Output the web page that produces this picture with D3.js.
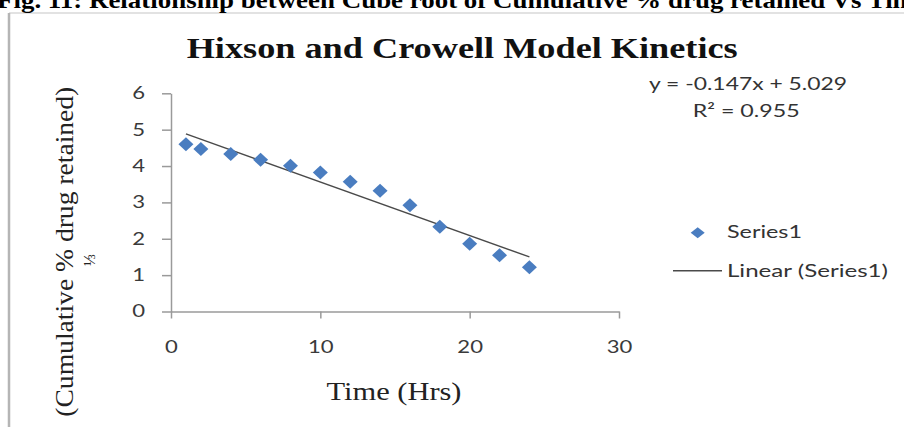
<!DOCTYPE html>
<html><head><meta charset="utf-8">
<script src="https://cdn.jsdelivr.net/npm/d3@7"></script>
<style>body{margin:0;background:#fff;} svg{display:block}</style>
</head><body><svg id="c" width="904" height="427"></svg>
<script>
// ---- data ----
const timeHrs = [1, 2, 4, 6, 8, 10, 12, 14, 16, 18, 20, 22, 24];
const cubeRootRetained = [4.60, 4.47, 4.33, 4.17, 4.01, 3.82, 3.57, 3.32, 2.92, 2.33, 1.86, 1.55, 1.22];
const xTicks = [0, 10, 20, 30];
const yTicks = [0, 1, 2, 3, 4, 5, 6];
const trendSlope = -0.147;
const trendIntercept = 5.029;
const trendRange = [1, 24];
const captionText = "Fig. 11: Relationship between Cube root of Cumulative % drug retained Vs Time";
const titleText = "Hixson and Crowell Model Kinetics";
const equationText = "y = -0.147x + 5.029";
const r2Text = "R² = 0.955";
const xTitle = "Time (Hrs)";
const yTitle = "(Cumulative % drug retained)";
const yTitleSup = "⅓";
const legendLabels = ["Series1", "Linear (Series1)"];

// ---- layout ----
const svg = d3.select("#c");
const serif = "'Liberation Serif','Times New Roman',serif";
const sans = "Lato,'Open Sans',sans-serif";
const x = d3.scaleLinear().domain([0, 30]).range([171, 619]);
const y = d3.scaleLinear().domain([0, 6]).range([311.5, 93.3]);
const blue = "#4a7dc0";
const axisColor = "#9a9a9a";
const sx = 1.3;

// frame
svg.append("line").attr("x1", 9).attr("x2", 904).attr("y1", 13).attr("y2", 13)
  .attr("stroke", "#d8d8d8").attr("stroke-width", 1.5);
svg.append("line").attr("x1", 9).attr("x2", 9).attr("y1", 13).attr("y2", 427)
  .attr("stroke", "#b5b5b5").attr("stroke-width", 2.5);

// caption (cut off at top, as in the reference)
svg.append("text").attr("x", -3).attr("y", 7.5)
  .attr("font-family", serif).attr("font-weight", "bold").attr("font-size", 23)
  .attr("textLength", 930).attr("lengthAdjust", "spacingAndGlyphs")
  .attr("fill", "#000").text(captionText);

// title
svg.append("text").attr("x", 186.7).attr("y", 58)
  .attr("font-family", serif).attr("font-weight", "bold").attr("font-size", 30)
  .attr("textLength", 551).attr("lengthAdjust", "spacingAndGlyphs")
  .attr("fill", "#111").text(titleText);

// axes
const fmt = d3.format("d");
const gx = svg.append("g").attr("transform", `translate(0,${y(0)})`)
  .call(d3.axisBottom(x).tickValues(xTicks).tickFormat(fmt).tickSize(7).tickSizeOuter(0).tickPadding(22));
const gy = svg.append("g").attr("transform", `translate(${x(0)},0)`)
  .call(d3.axisLeft(y).tickValues(yTicks).tickFormat(fmt).tickSize(9).tickSizeOuter(0).tickPadding(17));
[gx, gy].forEach(g => {
  g.select(".domain").attr("stroke", axisColor).attr("stroke-width", 1.5);
  g.selectAll(".tick line").attr("stroke", axisColor).attr("stroke-width", 1.5);
  g.selectAll(".tick text").attr("font-family", sans).attr("font-size", 17).attr("fill", "#3a3a3a");
});
gy.selectAll(".tick text").attr("x", -26 / sx).attr("transform", `scale(${sx},1)`);
gx.selectAll(".tick text").attr("transform", `scale(${sx},1)`);

// trendline
const tl = trendRange.map(t => [t, trendSlope * t + trendIntercept]);
svg.append("path")
  .attr("d", d3.line().x(d => x(d[0])).y(d => y(d[1]))(tl))
  .attr("fill", "none").attr("stroke", "#4a4a4a").attr("stroke-width", 1.4);

// diamonds
const diamond = (hw, hh) => `M0,${-hh}L${hw},0L0,${hh}L${-hw},0Z`;
svg.append("g").selectAll("path").data(timeHrs).join("path")
  .attr("d", diamond(7.5, 7))
  .attr("transform", (d, i) => `translate(${x(d)},${y(cubeRootRetained[i])})`)
  .attr("fill", blue);

// equation
svg.append("text").attr("x", 649).attr("y", 90)
  .attr("font-family", sans).attr("font-size", 18)
  .attr("textLength", 198).attr("lengthAdjust", "spacingAndGlyphs")
  .attr("fill", "#333").text(equationText);
svg.append("text").attr("x", 692.7).attr("y", 116.5)
  .attr("font-family", sans).attr("font-size", 18)
  .attr("textLength", 107).attr("lengthAdjust", "spacingAndGlyphs")
  .attr("fill", "#333").text(r2Text);

// legend
svg.append("path").attr("d", diamond(7, 5.5))
  .attr("transform", "translate(697.7,232.7)").attr("fill", blue);
svg.append("text").attr("x", 727).attr("y", 238)
  .attr("font-family", sans).attr("font-size", 18)
  .attr("textLength", 75).attr("lengthAdjust", "spacingAndGlyphs")
  .attr("fill", "#333").text(legendLabels[0]);
svg.append("line").attr("x1", 673).attr("x2", 722).attr("y1", 270.7).attr("y2", 270.7)
  .attr("stroke", "#4a4a4a").attr("stroke-width", 1.4);
svg.append("text").attr("x", 727).attr("y", 276.5)
  .attr("font-family", sans).attr("font-size", 18)
  .attr("textLength", 161).attr("lengthAdjust", "spacingAndGlyphs")
  .attr("fill", "#333").text(legendLabels[1]);

// axis titles
svg.append("text").attr("x", 394).attr("y", 400).attr("text-anchor", "middle")
  .attr("font-family", serif).attr("font-size", 25)
  .attr("textLength", 135).attr("lengthAdjust", "spacingAndGlyphs")
  .attr("fill", "#222").text(xTitle);
svg.append("text").attr("transform", "translate(73,251.7) rotate(-90)")
  .attr("text-anchor", "middle")
  .attr("font-family", serif).attr("font-size", 25)
  .attr("textLength", 330).attr("lengthAdjust", "spacingAndGlyphs")
  .attr("fill", "#222").text(yTitle);
svg.append("text").attr("transform", "translate(95,260) rotate(-90)")
  .attr("text-anchor", "middle")
  .attr("font-family", serif).attr("font-size", 16)
  .attr("fill", "#222").text(yTitleSup);
</script>
</body></html>
